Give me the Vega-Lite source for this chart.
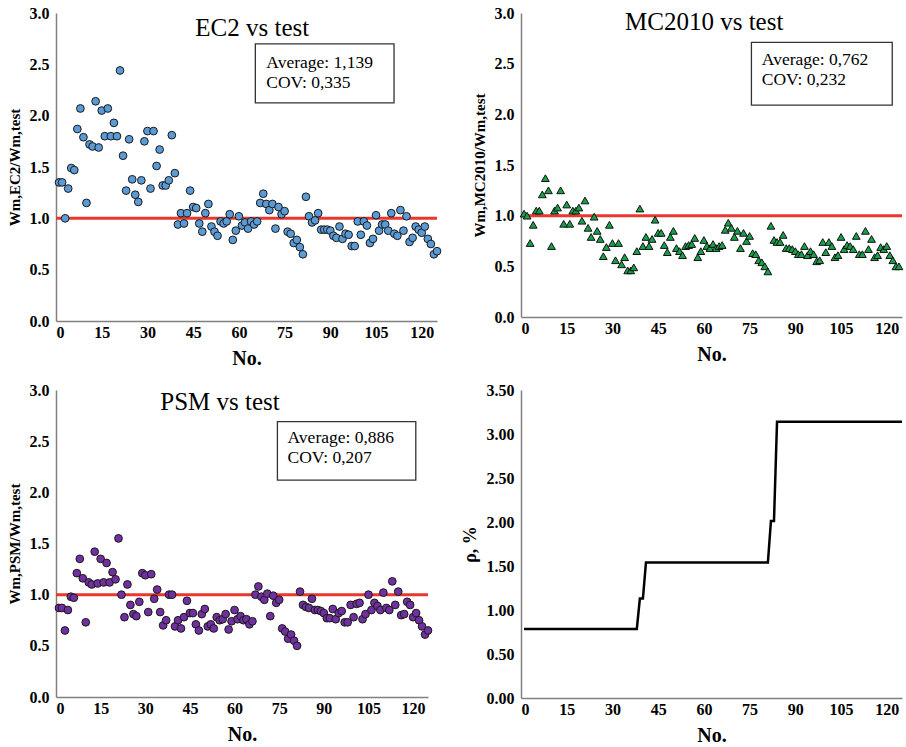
{
"$schema": "https://vega.github.io/schema/vega-lite/v6.json",
"background": "white",
"padding": {"left": 7, "top": 5, "right": 0, "bottom": 0},
"config": {
 "font": "Liberation Serif",
 "view": {"stroke": null},
 "axis": {"labelFont": "Liberation Serif", "labelFontSize": 16, "labelFontWeight": "bold", "labelColor": "#000", "titleFont": "Liberation Serif", "titleColor": "#000", "titleFontWeight": "bold", "grid": false, "ticks": false, "domainColor": "#808080", "domainWidth": 1.5},
 "axisX": {"labelPadding": 3, "titlePadding": 8, "titleFontSize": 20},
 "axisY": {"labelPadding": 7, "titlePadding": 7, "titleFontSize": 15},
 "text": {"font": "Liberation Serif", "fill": "#000", "fontWeight": "normal"}
},
"data": {"values": [
{"n":1,"ec2":1.35,"mc":1.02,"psm":0.87,"rho":0.785},
{"n":2,"ec2":1.35,"mc":1.00,"psm":0.87,"rho":0.785},
{"n":3,"ec2":1.00,"mc":0.73,"psm":0.65,"rho":0.785},
{"n":4,"ec2":1.29,"mc":0.91,"psm":0.85,"rho":0.785},
{"n":5,"ec2":1.49,"mc":1.05,"psm":0.98,"rho":0.785},
{"n":6,"ec2":1.47,"mc":1.05,"psm":0.97,"rho":0.785},
{"n":7,"ec2":1.87,"mc":1.21,"psm":1.21,"rho":0.785},
{"n":8,"ec2":2.07,"mc":1.37,"psm":1.35,"rho":0.785},
{"n":9,"ec2":1.79,"mc":1.25,"psm":1.16,"rho":0.785},
{"n":10,"ec2":1.15,"mc":0.70,"psm":0.73,"rho":0.785},
{"n":11,"ec2":1.72,"mc":1.05,"psm":1.12,"rho":0.785},
{"n":12,"ec2":1.70,"mc":1.08,"psm":1.10,"rho":0.785},
{"n":13,"ec2":2.14,"mc":1.25,"psm":1.42,"rho":0.785},
{"n":14,"ec2":1.69,"mc":0.92,"psm":1.11,"rho":0.785},
{"n":15,"ec2":2.05,"mc":1.11,"psm":1.35,"rho":0.785},
{"n":16,"ec2":1.80,"mc":0.92,"psm":1.12,"rho":0.785},
{"n":17,"ec2":2.07,"mc":1.05,"psm":1.31,"rho":0.785},
{"n":18,"ec2":1.80,"mc":1.05,"psm":1.12,"rho":0.785},
{"n":19,"ec2":1.93,"mc":1.08,"psm":1.22,"rho":0.785},
{"n":20,"ec2":1.80,"mc":0.95,"psm":1.15,"rho":0.785},
{"n":21,"ec2":2.44,"mc":1.15,"psm":1.55,"rho":0.785},
{"n":22,"ec2":1.61,"mc":0.88,"psm":1.00,"rho":0.785},
{"n":23,"ec2":1.27,"mc":0.79,"psm":0.78,"rho":0.785},
{"n":24,"ec2":1.77,"mc":0.99,"psm":1.10,"rho":0.785},
{"n":25,"ec2":1.38,"mc":0.85,"psm":0.90,"rho":0.785},
{"n":26,"ec2":1.23,"mc":0.77,"psm":0.81,"rho":0.785},
{"n":27,"ec2":1.16,"mc":0.60,"psm":0.79,"rho":0.785},
{"n":28,"ec2":1.37,"mc":0.69,"psm":0.93,"rho":0.785},
{"n":29,"ec2":1.75,"mc":0.91,"psm":1.21,"rho":0.785},
{"n":30,"ec2":1.85,"mc":0.73,"psm":1.19,"rho":0.785},
{"n":31,"ec2":1.29,"mc":0.56,"psm":0.83,"rho":0.785},
{"n":32,"ec2":1.85,"mc":0.73,"psm":1.20,"rho":0.785},
{"n":33,"ec2":1.51,"mc":0.52,"psm":0.96,"rho":0.785},
{"n":34,"ec2":1.67,"mc":0.59,"psm":1.05,"rho":0.785},
{"n":35,"ec2":1.32,"mc":0.46,"psm":0.83,"rho":0.785},
{"n":36,"ec2":1.32,"mc":0.46,"psm":0.70,"rho":0.785},
{"n":37,"ec2":1.37,"mc":0.49,"psm":0.75,"rho":0.785},
{"n":38,"ec2":1.81,"mc":0.65,"psm":1.00,"rho":0.785},
{"n":39,"ec2":1.44,"mc":1.07,"psm":1.00,"rho":1.13},
{"n":40,"ec2":0.94,"mc":0.70,"psm":0.69,"rho":1.13},
{"n":41,"ec2":1.05,"mc":0.79,"psm":0.75,"rho":1.54},
{"n":42,"ec2":0.95,"mc":0.70,"psm":0.67,"rho":1.54},
{"n":43,"ec2":1.05,"mc":0.77,"psm":0.78,"rho":1.54},
{"n":44,"ec2":1.27,"mc":0.96,"psm":0.94,"rho":1.54},
{"n":45,"ec2":1.11,"mc":0.83,"psm":0.82,"rho":1.54},
{"n":46,"ec2":1.10,"mc":0.83,"psm":0.82,"rho":1.54},
{"n":47,"ec2":0.95,"mc":0.71,"psm":0.71,"rho":1.54},
{"n":48,"ec2":0.87,"mc":0.64,"psm":0.65,"rho":1.54},
{"n":49,"ec2":1.05,"mc":0.79,"psm":0.81,"rho":1.54},
{"n":50,"ec2":1.14,"mc":0.85,"psm":0.86,"rho":1.54},
{"n":51,"ec2":0.92,"mc":0.68,"psm":0.69,"rho":1.54},
{"n":52,"ec2":0.87,"mc":0.65,"psm":0.71,"rho":1.54},
{"n":53,"ec2":0.83,"mc":0.61,"psm":0.67,"rho":1.54},
{"n":54,"ec2":0.97,"mc":0.70,"psm":0.78,"rho":1.54},
{"n":55,"ec2":0.95,"mc":0.71,"psm":0.75,"rho":1.54},
{"n":56,"ec2":0.97,"mc":0.72,"psm":0.76,"rho":1.54},
{"n":57,"ec2":1.04,"mc":0.78,"psm":0.81,"rho":1.54},
{"n":58,"ec2":0.79,"mc":0.59,"psm":0.66,"rho":1.54},
{"n":59,"ec2":0.88,"mc":0.65,"psm":0.74,"rho":1.54},
{"n":60,"ec2":1.02,"mc":0.76,"psm":0.85,"rho":1.54},
{"n":61,"ec2":0.93,"mc":0.70,"psm":0.76,"rho":1.54},
{"n":62,"ec2":0.96,"mc":0.68,"psm":0.79,"rho":1.54},
{"n":63,"ec2":0.90,"mc":0.72,"psm":0.75,"rho":1.54},
{"n":64,"ec2":0.97,"mc":0.68,"psm":0.76,"rho":1.54},
{"n":65,"ec2":0.94,"mc":0.70,"psm":0.71,"rho":1.54},
{"n":66,"ec2":0.97,"mc":0.71,"psm":0.74,"rho":1.54},
{"n":67,"ec2":1.15,"mc":0.86,"psm":1.00,"rho":1.54},
{"n":68,"ec2":1.24,"mc":0.93,"psm":1.08,"rho":1.54},
{"n":69,"ec2":1.14,"mc":0.88,"psm":0.98,"rho":1.54},
{"n":70,"ec2":1.08,"mc":0.79,"psm":0.95,"rho":1.54},
{"n":71,"ec2":1.14,"mc":0.85,"psm":1.01,"rho":1.54},
{"n":72,"ec2":0.90,"mc":0.68,"psm":0.79,"rho":1.54},
{"n":73,"ec2":1.11,"mc":0.83,"psm":0.99,"rho":1.54},
{"n":74,"ec2":1.04,"mc":0.75,"psm":0.92,"rho":1.54},
{"n":75,"ec2":1.07,"mc":0.80,"psm":0.95,"rho":1.54},
{"n":76,"ec2":0.87,"mc":0.63,"psm":0.67,"rho":1.54},
{"n":77,"ec2":0.85,"mc":0.62,"psm":0.64,"rho":1.54},
{"n":78,"ec2":0.76,"mc":0.56,"psm":0.57,"rho":1.54},
{"n":79,"ec2":0.79,"mc":0.54,"psm":0.61,"rho":1.54},
{"n":80,"ec2":0.72,"mc":0.50,"psm":0.55,"rho":1.54},
{"n":81,"ec2":0.65,"mc":0.45,"psm":0.50,"rho":1.54},
{"n":82,"ec2":1.21,"mc":0.90,"psm":1.03,"rho":2.01},
{"n":83,"ec2":1.02,"mc":0.76,"psm":0.90,"rho":2.01},
{"n":84,"ec2":0.96,"mc":0.74,"psm":0.88,"rho":3.14},
{"n":85,"ec2":0.98,"mc":0.74,"psm":0.87,"rho":3.14},
{"n":86,"ec2":1.05,"mc":0.81,"psm":0.96,"rho":3.14},
{"n":87,"ec2":0.89,"mc":0.68,"psm":0.85,"rho":3.14},
{"n":88,"ec2":0.89,"mc":0.68,"psm":0.85,"rho":3.14},
{"n":89,"ec2":0.89,"mc":0.67,"psm":0.84,"rho":3.14},
{"n":90,"ec2":0.88,"mc":0.65,"psm":0.82,"rho":3.14},
{"n":91,"ec2":0.83,"mc":0.62,"psm":0.77,"rho":3.14},
{"n":92,"ec2":0.81,"mc":0.62,"psm":0.77,"rho":3.14},
{"n":93,"ec2":0.92,"mc":0.70,"psm":0.86,"rho":3.14},
{"n":94,"ec2":0.80,"mc":0.61,"psm":0.76,"rho":3.14},
{"n":95,"ec2":0.85,"mc":0.65,"psm":0.82,"rho":3.14},
{"n":96,"ec2":0.84,"mc":0.62,"psm":0.84,"rho":3.14},
{"n":97,"ec2":0.73,"mc":0.55,"psm":0.73,"rho":3.14},
{"n":98,"ec2":0.73,"mc":0.56,"psm":0.73,"rho":3.14},
{"n":99,"ec2":0.97,"mc":0.74,"psm":0.90,"rho":3.14},
{"n":100,"ec2":0.84,"mc":0.64,"psm":0.78,"rho":3.14},
{"n":101,"ec2":0.97,"mc":0.74,"psm":0.91,"rho":3.14},
{"n":102,"ec2":0.93,"mc":0.70,"psm":0.92,"rho":3.14},
{"n":103,"ec2":0.76,"mc":0.59,"psm":0.76,"rho":3.14},
{"n":104,"ec2":0.80,"mc":0.61,"psm":0.81,"rho":3.14},
{"n":105,"ec2":1.03,"mc":0.79,"psm":1.00,"rho":3.14},
{"n":106,"ec2":0.88,"mc":0.67,"psm":0.85,"rho":3.14},
{"n":107,"ec2":0.94,"mc":0.71,"psm":0.92,"rho":3.14},
{"n":108,"ec2":0.94,"mc":0.70,"psm":0.89,"rho":3.14},
{"n":109,"ec2":0.88,"mc":0.67,"psm":0.85,"rho":3.14},
{"n":110,"ec2":1.05,"mc":0.80,"psm":1.02,"rho":3.14},
{"n":111,"ec2":0.85,"mc":0.62,"psm":0.87,"rho":3.14},
{"n":112,"ec2":0.83,"mc":0.62,"psm":0.85,"rho":3.14},
{"n":113,"ec2":1.08,"mc":0.85,"psm":1.13,"rho":3.14},
{"n":114,"ec2":0.88,"mc":0.67,"psm":0.90,"rho":3.14},
{"n":115,"ec2":1.02,"mc":0.77,"psm":1.03,"rho":3.14},
{"n":116,"ec2":0.77,"mc":0.59,"psm":0.80,"rho":3.14},
{"n":117,"ec2":0.81,"mc":0.61,"psm":0.81,"rho":3.14},
{"n":118,"ec2":0.92,"mc":0.69,"psm":0.93,"rho":3.14},
{"n":119,"ec2":0.89,"mc":0.67,"psm":0.90,"rho":3.14},
{"n":120,"ec2":0.86,"mc":0.70,"psm":0.78,"rho":3.14},
{"n":121,"ec2":0.92,"mc":0.61,"psm":0.82,"rho":3.14},
{"n":122,"ec2":0.80,"mc":0.56,"psm":0.75,"rho":3.14},
{"n":123,"ec2":0.75,"mc":0.50,"psm":0.69,"rho":3.14},
{"n":124,"ec2":0.65,"mc":0.50,"psm":0.61,"rho":3.14},
{"n":125,"ec2":0.68,"psm":0.65,"rho":3.14}
]},
"columns": 2,
"spacing": {"row": 14, "column": 18},
"concat": [
 {
  "width": 381, "height": 308,
  "layer": [
   {"data": {"values": [{}]}, "mark": {"type": "text", "align": "center", "baseline": "middle", "fontSize": 25},
    "encoding": {"x": {"datum": 64.4}, "y": {"datum": 2.856}, "text": {"value": "EC2 vs test"}}},
   {"data": {"values": [{}]}, "mark": {"type": "rect", "fill": "white", "stroke": "#333", "strokeWidth": 1.3},
    "encoding": {"x": {"datum": 65.4}, "x2": {"datum": 110.9}, "y": {"datum": 2.70}, "y2": {"datum": 2.125}}},
   {"data": {"values": [{}]}, "mark": {"type": "text", "align": "left", "baseline": "middle", "fontSize": 17.5, "lineHeight": 20},
    "encoding": {"x": {"datum": 69.0}, "y": {"datum": 2.51}, "text": {"value": ["Average: 1,139", "COV: 0,335"]}}},
   {"data": {"values": [{}]}, "mark": {"type": "rule", "color": "#e8372c", "strokeWidth": 3}, "encoding": {"y": {"datum": 1}}},
   {"mark": {"type": "point", "shape": "circle", "filled": true, "fill": "#5b9bd5", "stroke": "#1a1a1a", "strokeWidth": 1, "size": 60, "opacity": 1},
    "encoding": {
     "x": {"field": "n", "type": "quantitative", "scale": {"domain": [0, 125], "nice": false}, "axis": {"title": "No.", "values": [0, 15, 30, 45, 60, 75, 90, 105, 120]}},
     "y": {"field": "ec2", "type": "quantitative", "scale": {"domain": [0, 3], "nice": false}, "axis": {"title": "Wm,EC2/Wm,test", "values": [0, 0.5, 1, 1.5, 2, 2.5, 3], "format": ".1f"}}
    }}
  ]
 },
 {
  "width": 381, "height": 304,
  "layer": [
   {"data": {"values": [{}]}, "mark": {"type": "text", "align": "center", "baseline": "middle", "fontSize": 25},
    "encoding": {"x": {"datum": 60.1}, "y": {"datum": 2.91}, "text": {"value": "MC2010 vs test"}}},
   {"data": {"values": [{}]}, "mark": {"type": "rect", "fill": "white", "stroke": "#333", "strokeWidth": 1.3},
    "encoding": {"x": {"datum": 75.6}, "x2": {"datum": 121.8}, "y": {"datum": 2.71}, "y2": {"datum": 2.09}}},
   {"data": {"values": [{}]}, "mark": {"type": "text", "align": "left", "baseline": "middle", "fontSize": 17.5, "lineHeight": 20},
    "encoding": {"x": {"datum": 79.0}, "y": {"datum": 2.54}, "text": {"value": ["Average: 0,762", "COV: 0,232"]}}},
   {"data": {"values": [{}]}, "mark": {"type": "rule", "color": "#e8372c", "strokeWidth": 3}, "encoding": {"y": {"datum": 1}}},
   {"mark": {"type": "point", "shape": "triangle-up", "filled": true, "fill": "#17a04a", "stroke": "#111", "strokeWidth": 1, "size": 60, "opacity": 1},
    "encoding": {
     "x": {"field": "n", "type": "quantitative", "scale": {"domain": [0, 125], "nice": false}, "axis": {"title": "No.", "values": [0, 15, 30, 45, 60, 75, 90, 105, 120]}},
     "y": {"field": "mc", "type": "quantitative", "scale": {"domain": [0, 3], "nice": false}, "axis": {"title": "Wm,MC2010/Wm,test", "values": [0, 0.5, 1, 1.5, 2, 2.5, 3], "format": ".1f"}}
    }}
  ]
 },
 {
  "width": 372, "height": 307,
  "layer": [
   {"data": {"values": [{}]}, "mark": {"type": "text", "align": "center", "baseline": "middle", "fontSize": 25},
    "encoding": {"x": {"datum": 55.1}, "y": {"datum": 2.88}, "text": {"value": "PSM vs test"}}},
   {"data": {"values": [{}]}, "mark": {"type": "rect", "fill": "white", "stroke": "#333", "strokeWidth": 1.3},
    "encoding": {"x": {"datum": 74.4}, "x2": {"datum": 120.9}, "y": {"datum": 2.69}, "y2": {"datum": 2.12}}},
   {"data": {"values": [{}]}, "mark": {"type": "text", "align": "left", "baseline": "middle", "fontSize": 17.5, "lineHeight": 20},
    "encoding": {"x": {"datum": 77.8}, "y": {"datum": 2.53}, "text": {"value": ["Average: 0,886", "COV: 0,207"]}}},
   {"data": {"values": [{}]}, "mark": {"type": "rule", "color": "#e8372c", "strokeWidth": 3}, "encoding": {"y": {"datum": 1}}},
   {"mark": {"type": "point", "shape": "circle", "filled": true, "fill": "#7030a0", "stroke": "#1a1a1a", "strokeWidth": 1, "size": 60, "opacity": 1},
    "encoding": {
     "x": {"field": "n", "type": "quantitative", "scale": {"domain": [0, 125], "nice": false}, "axis": {"title": "No.", "values": [0, 15, 30, 45, 60, 75, 90, 105, 120]}},
     "y": {"field": "psm", "type": "quantitative", "scale": {"domain": [0, 3], "nice": false}, "axis": {"title": "Wm,PSM/Wm,test", "values": [0, 0.5, 1, 1.5, 2, 2.5, 3], "format": ".1f"}}
    }}
  ]
 },
 {
  "width": 381, "height": 308,
  "mark": {"type": "line", "color": "#000", "strokeWidth": 2.5},
  "encoding": {
   "x": {"field": "n", "type": "quantitative", "scale": {"domain": [0, 125], "nice": false}, "axis": {"title": "No.", "values": [0, 15, 30, 45, 60, 75, 90, 105, 120]}},
   "y": {"field": "rho", "type": "quantitative", "scale": {"domain": [0, 3.5], "nice": false}, "axis": {"title": "ρ, %", "titleFontSize": 18, "values": [0, 0.5, 1, 1.5, 2, 2.5, 3, 3.5], "format": ".2f"}}
  }
 }
]
}
